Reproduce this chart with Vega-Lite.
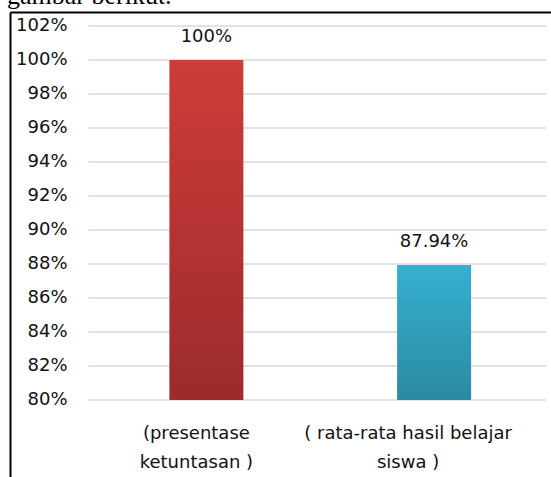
{
  "$schema": "https://vega.github.io/schema/vega-lite/v6.json",
  "width": 541,
  "height": 465,
  "autosize": {"type": "none"},
  "padding": {"left": 10, "top": 12, "right": 0, "bottom": 0},
  "background": "white",
  "title": {"text": "gambar berikut.", "anchor": "start", "frame": "group", "font": "Liberation Serif", "fontSize": 26, "fontWeight": "normal", "color": "#000", "baseline": "alphabetic", "offset": 7, "dx": -3, "dy": 25},
  "config": {"view": {"stroke": null}},
  "datasets": {
    "bars": [
      {"pos": 1, "kategori": "(presentase\nketuntasan )", "nilai": 100, "label": "100%"},
      {"pos": 2, "kategori": "( rata-rata hasil belajar\nsiswa )", "nilai": 87.94, "label": "87.94%"}
    ],
    "grid": [
      {"nilai": 80}, {"nilai": 82}, {"nilai": 84}, {"nilai": 86}, {"nilai": 88}, {"nilai": 90},
      {"nilai": 92}, {"nilai": 94}, {"nilai": 96}, {"nilai": 98}, {"nilai": 100}, {"nilai": 102}
    ]
  },
  "layer": [
    {
      "data": {"name": "grid"},
      "mark": {"type": "rule", "color": "#D9D9D9", "strokeWidth": 1.5},
      "encoding": {
        "y": {"field": "nilai", "type": "quantitative", "title": null,
          "scale": {"domain": [75.47, 102.8235], "nice": false, "zero": false},
          "axis": {"orient": "left", "values": [80, 82, 84, 86, 88, 90, 92, 94, 96, 98, 100, 102],
            "labelExpr": "datum.value + '%'", "domain": true, "domainColor": "#000", "domainWidth": 2,
            "ticks": false, "grid": false, "labelFont": "DejaVu Sans", "labelFontSize": 18, "labelColor": "#111",
            "labelAlign": "right", "labelBaseline": "middle", "labelPadding": -57, "labelFlush": false, "labelOverlap": false}},
        "x": {"datum": 0.4828, "type": "quantitative", "title": null,
          "scale": {"domain": [0.1595, 2.4914], "nice": false, "zero": false},
          "axis": {"orient": "top", "domain": true, "domainColor": "#000", "domainWidth": 2, "ticks": false, "labels": false, "grid": false, "minExtent": 0, "maxExtent": 0, "offset": 0}},
        "x2": {"datum": 2.4914}
      }
    },
    {
      "data": {"name": "bars"},
      "transform": [{"filter": "datum.pos == 1"}],
      "mark": {"type": "bar", "orient": "vertical", "size": 74,
        "color": {"gradient": "linear", "x1": 0, "y1": 0, "x2": 0, "y2": 1,
          "stops": [{"offset": 0, "color": "#CD3C39"}, {"offset": 1, "color": "#9C2B2C"}]}},
      "encoding": {
        "x": {"field": "pos", "type": "quantitative", "title": null},
        "y": {"field": "nilai", "type": "quantitative", "title": null},
        "y2": {"datum": 80}
      }
    },
    {
      "data": {"name": "bars"},
      "transform": [{"filter": "datum.pos == 2"}],
      "mark": {"type": "bar", "orient": "vertical", "size": 74,
        "color": {"gradient": "linear", "x1": 0, "y1": 0, "x2": 0, "y2": 1,
          "stops": [{"offset": 0, "color": "#36B0D2"}, {"offset": 1, "color": "#2A8AA1"}]}},
      "encoding": {
        "x": {"field": "pos", "type": "quantitative", "title": null},
        "y": {"field": "nilai", "type": "quantitative", "title": null},
        "y2": {"datum": 80}
      }
    },
    {
      "data": {"name": "bars"},
      "mark": {"type": "text", "dy": -18, "baseline": "alphabetic", "align": "center", "font": "DejaVu Sans", "fontSize": 18, "color": "#111"},
      "encoding": {
        "x": {"field": "pos", "type": "quantitative", "title": null},
        "y": {"field": "nilai", "type": "quantitative", "title": null},
        "text": {"field": "label"}
      }
    },
    {
      "data": {"name": "bars"},
      "transform": [{"filter": "datum.pos == 1"}],
      "mark": {"type": "text", "dy": 39, "dx": -10, "baseline": "alphabetic", "align": "center", "lineBreak": "\n", "lineHeight": 29, "font": "DejaVu Sans", "fontSize": 18, "color": "#111"},
      "encoding": {
        "x": {"field": "pos", "type": "quantitative", "title": null},
        "y": {"datum": 80, "type": "quantitative"},
        "text": {"field": "kategori"}
      }
    },
    {
      "data": {"name": "bars"},
      "transform": [{"filter": "datum.pos == 2"}],
      "mark": {"type": "text", "dy": 39, "dx": -26, "baseline": "alphabetic", "align": "center", "lineBreak": "\n", "lineHeight": 29, "font": "DejaVu Sans", "fontSize": 18, "color": "#111"},
      "encoding": {
        "x": {"field": "pos", "type": "quantitative", "title": null},
        "y": {"datum": 80, "type": "quantitative"},
        "text": {"field": "kategori"}
      }
    }
  ]
}
